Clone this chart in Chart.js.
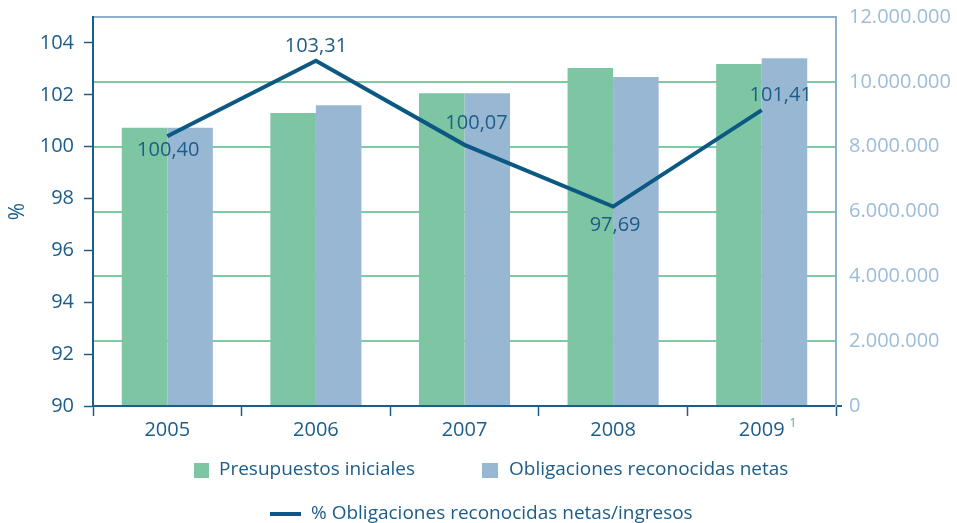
<!DOCTYPE html>
<html>
<head>
<meta charset="utf-8">
<script src="https://cdn.jsdelivr.net/npm/chart.js@4"></script>
<style>
html,body{margin:0;padding:0;background:#fff;}
#wrap{width:957px;height:523px;position:relative;}
</style>
</head>
<body>
<div id="wrap"><canvas id="c" width="957" height="523"></canvas></div>
<script>
// ---- data ----
const categories = ['2005', '2006', '2007', '2008', '2009'];
const presupuestosIniciales = [8580000, 9040000, 9650000, 10430000, 10550000];
const obligacionesNetas = [8580000, 9280000, 9650000, 10150000, 10730000];
const porcentajeObligaciones = [100.40, 103.31, 100.07, 97.69, 101.41];
const seriesNames = ['Presupuestos iniciales', 'Obligaciones reconocidas netas', '% Obligaciones reconocidas netas/ingresos'];
const footnoteMarks = ['', '', '', '', '1'];

// ---- styles ----
const GREEN = '#7dc5a3';
const BLUE = '#98b7d3';
const LINE = '#0b5883';
const DARK = '#1c5d89';
const LIGHT = '#9cbcd8';
const FRAME = '#8fb0cc';
const GRID = '#7ecaa3';
const FONT = '"Open Sans", "Noto Sans", sans-serif';

const labelOffsets = [[1, 14], [0, -15], [12, -22], [2, 19], [19, -15]];

function fmtThousands(v) {
  return String(Math.round(v)).replace(/\B(?=(\d{3})+(?!\d))/g, '.');
}

const dataLabelPlugin = {
  id: 'dataLabels',
  afterDatasetsDraw(chart) {
    const ctx = chart.ctx;
    const meta = chart.getDatasetMeta(2);
    ctx.save();
    ctx.font = '20px ' + FONT;
    ctx.fillStyle = DARK;
    ctx.textAlign = 'center';
    ctx.textBaseline = 'middle';
    meta.data.forEach((pt, i) => {
      const v = porcentajeObligaciones[i];
      const o = labelOffsets[i];
      ctx.fillText(v.toFixed(2).replace('.', ','), pt.x + o[0], pt.y + o[1]);
    });
    ctx.restore();
  }
};

const decorPlugin = {
  id: 'decor',
  afterDraw(chart) {
    const ctx = chart.ctx;
    const xs = chart.scales.x;
    ctx.save();
    // footnote superscripts
    ctx.fillStyle = '#3fb97a';
    ctx.textAlign = 'left';
    ctx.textBaseline = 'top';
    footnoteMarks.forEach((m, i) => {
      if (!m) return;
      ctx.font = '20px ' + FONT;
      const w = ctx.measureText(categories[i]).width;
      const cx = xs.getPixelForTick(i);
      ctx.font = '12px ' + FONT;
      ctx.fillText(m, cx + w / 2 + 5, 418);
    });
    // legend
    const ds = chart.data.datasets;
    ctx.font = '19px ' + FONT;
    ctx.textBaseline = 'middle';
    ctx.fillStyle = ds[0].backgroundColor;
    ctx.fillRect(194, 463, 15, 15);
    ctx.fillStyle = DARK;
    ctx.fillText(ds[0].label, 219, 470);
    ctx.fillStyle = ds[1].backgroundColor;
    ctx.fillRect(482, 463, 16, 15);
    ctx.fillStyle = DARK;
    ctx.fillText(ds[1].label, 509, 470);
    ctx.strokeStyle = ds[2].borderColor;
    ctx.lineWidth = 4;
    ctx.beginPath();
    ctx.moveTo(270, 514);
    ctx.lineTo(301, 514);
    ctx.stroke();
    ctx.fillStyle = DARK;
    ctx.fillText(ds[2].label, 311, 514);
    ctx.restore();
  }
};

function noVPad(s) { s.paddingTop = 0; s.paddingBottom = 0; }

new Chart(document.getElementById('c'), {
  data: {
    labels: categories,
    datasets: [
      { type: 'bar', label: seriesNames[0], data: presupuestosIniciales, backgroundColor: GREEN, yAxisID: 'y1', order: 2, categoryPercentage: 0.613, barPercentage: 1.0 },
      { type: 'bar', label: seriesNames[1], data: obligacionesNetas, backgroundColor: BLUE, yAxisID: 'y1', order: 2, categoryPercentage: 0.613, barPercentage: 1.0 },
      { type: 'line', label: seriesNames[2], data: porcentajeObligaciones, borderColor: LINE, borderWidth: 4, pointRadius: 0, tension: 0, yAxisID: 'y', order: 0, borderJoinStyle: 'miter' }
    ]
  },
  options: {
    responsive: false,
    animation: false,
    devicePixelRatio: 1,
    layout: { padding: { top: 17, left: 0, right: 0, bottom: 0 } },
    plugins: { legend: { display: false }, tooltip: { enabled: false } },
    scales: {
      x: {
        z: 1,
        grid: { offset: true, drawOnChartArea: false, drawTicks: true, tickLength: 10, tickColor: DARK, tickWidth: 1.5 },
        border: { color: DARK, width: 2 },
        ticks: { color: DARK, font: { family: FONT, size: 20 }, padding: 2 },
        afterFit(s) { s.height = 117; }
      },
      y: {
        position: 'left',
        min: 90, max: 105,
        grid: { drawOnChartArea: false, tickLength: 9, tickColor: DARK, tickWidth: 1.5 },
        border: { color: DARK, width: 2 },
        ticks: { stepSize: 2, color: DARK, font: { family: FONT, size: 20 }, padding: 10 },
        title: { display: true, text: '%', color: DARK, font: { family: FONT, size: 21 }, padding: { top: 5, bottom: 0 } },
        afterBuildTicks(s) { s.ticks = s.ticks.filter(t => t.value <= 104); },
        afterFit(s) { s.width = 93; noVPad(s); }
      },
      y1: {
        position: 'right',
        min: 0, max: 12000000,
        grid: {
          drawOnChartArea: true,
          color: (c) => c.tick && c.tick.value === 0 ? 'rgba(0,0,0,0)' : (c.tick && c.tick.value === 12000000 ? FRAME : GRID),
          lineWidth: 2,
          tickLength: 6,
          tickColor: (c) => c.tick && c.tick.value === 0 ? DARK : 'rgba(0,0,0,0)'
        },
        border: { color: FRAME, width: 2 },
        ticks: { stepSize: 2000000, color: LIGHT, font: { family: FONT, size: 20 }, padding: 7, callback: (v) => fmtThousands(v) },
        afterFit(s) { s.width = 121; noVPad(s); }
      }
    }
  },
  plugins: [dataLabelPlugin, decorPlugin]
});
</script>
</body>
</html>
